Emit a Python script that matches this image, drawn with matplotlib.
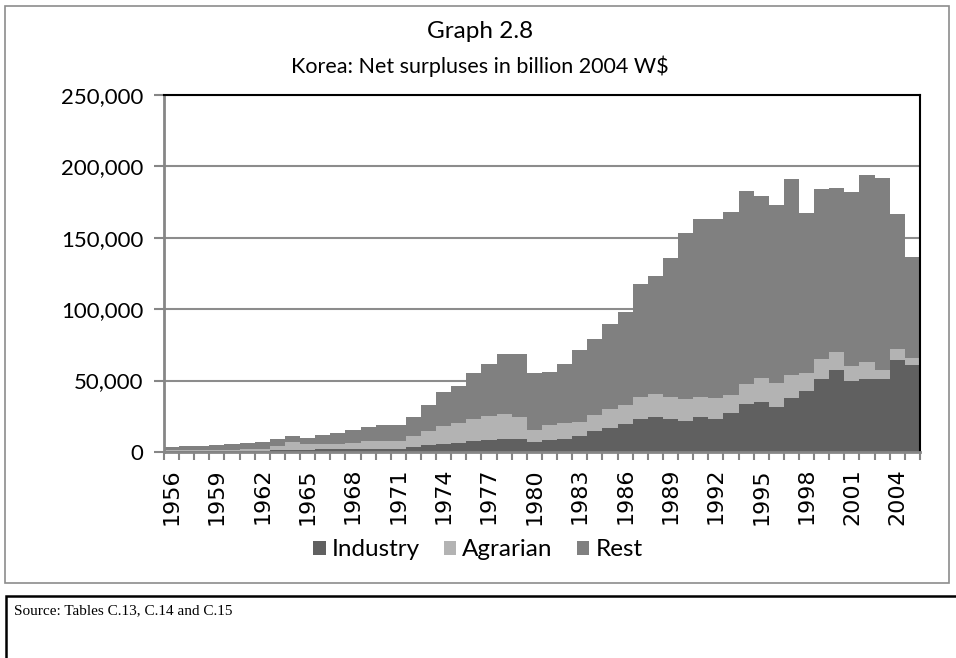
import matplotlib
matplotlib.use("Agg")
import matplotlib.pyplot as plt
from matplotlib.patches import Rectangle
from matplotlib.ticker import FuncFormatter, FixedLocator
import numpy as np

# Net surpluses by sector, billion 2004 W$
years = list(range(1956, 2006))
industry = [500, 500, 600, 600, 700, 800, 1000, 1200, 1500, 1600,
            1900, 1900, 2000, 2300, 2300, 1900, 3700, 5100, 5800, 6400,
            7500, 8200, 8900, 8900, 6800, 8200, 9100, 11200, 14500, 16700,
            19800, 23300, 24300, 23100, 21900, 24500, 23300, 27500, 33800, 35100,
            31500, 38100, 42900, 50900, 57400, 49700, 51400, 51400, 64400, 60900]
agrarian = [800, 900, 800, 900, 1000, 1000, 1100, 3200, 5700, 4000,
            3900, 3700, 4500, 5200, 5200, 6000, 7500, 9400, 12400, 13700,
            15700, 17000, 17500, 15400, 8600, 10700, 11200, 10000, 11400, 13300,
            13100, 15400, 16100, 15600, 15200, 14000, 14300, 12200, 14100, 16600,
            16600, 15600, 12400, 14200, 12600, 10800, 11600, 6300, 7800, 4700]
rest = [2400, 3000, 3100, 3600, 3900, 4700, 5100, 4500, 4000, 4200,
        6300, 7500, 8700, 9800, 11200, 10800, 13500, 18200, 23800, 26100,
        31800, 36700, 42500, 44200, 39900, 36900, 41600, 50000, 53300, 59400,
        65400, 78800, 82900, 97200, 116100, 124500, 125400, 128400, 134900, 127600,
        124700, 137100, 112100, 119300, 114900, 121800, 131000, 134000, 94500, 71200]

label_years = list(range(1956, 2006, 3))

plt.rcParams['font.family'] = ['Lato', 'DejaVu Sans']

fig = plt.figure(figsize=(9.56, 6.58), dpi=100)
ax = fig.add_axes([0.1715, 0.3131, 0.7908, 0.5426])

ind = np.array(industry)
agr = np.array(agrarian)
res = np.array(rest)

ax.bar(years, ind, width=1.0, color='#606060', linewidth=0, label='Industry', zorder=2)
ax.bar(years, agr, width=1.0, bottom=ind, color='#b3b3b3', linewidth=0, label='Agrarian', zorder=2)
ax.bar(years, res, width=1.0, bottom=ind + agr, color='#808080', linewidth=0, label='Rest', zorder=2)

ax.set_xlim(years[0] - 0.5, years[-1] + 0.5)
ax.set_ylim(0, 250000)
ax.set_yticks(range(0, 250001, 50000))
ax.yaxis.set_major_formatter(FuncFormatter(lambda v, p: f"{int(v):,}"))

# year labels every third year, tick marks between every bar
ax.xaxis.set_major_locator(FixedLocator(label_years))
ax.xaxis.set_minor_locator(FixedLocator(np.arange(years[0] - 0.5, years[-1] + 1.0, 1.0)))
ax.tick_params(axis='x', which='major', length=0, pad=11.5)
ax.tick_params(axis='x', which='minor', length=6, width=1.5, color='#868686')
ax.tick_params(axis='y', length=7, width=1.5, color='#868686', labelsize=16, pad=8)
ax.set_xticklabels([str(y) for y in label_years])
plt.setp(ax.get_xticklabels(), rotation=90, family='DejaVu Sans', fontsize=16)

ax.yaxis.grid(True, color='#8c8c8c', linewidth=1.5, zorder=1)
ax.set_axisbelow(True)

for side in ('left', 'bottom'):
    ax.spines[side].set_color('#868686')
    ax.spines[side].set_linewidth(2)
for side in ('top', 'right'):
    ax.spines[side].set_color('black')
    ax.spines[side].set_linewidth(1.5)

fig.text(0.502, 1 - 31 / 658, 'Graph 2.8', ha='center', va='center', fontsize=17.5)
fig.text(0.502, 1 - 66 / 658, 'Korea: Net surpluses in billion 2004 W$',
         ha='center', va='center', fontsize=15.5)

fig.legend(loc='center', bbox_to_anchor=(0.5, 1 - 550 / 658), ncol=3, frameon=False,
           fontsize=17.5, handlelength=0.5, handleheight=0.5, handletextpad=0.25,
           columnspacing=1.0)

# chart frame and source note box
fig.patches.append(Rectangle((5 / 956, 1 - 583 / 658), 944 / 956, 577 / 658,
                             transform=fig.transFigure, fill=False,
                             edgecolor='#8c8c8c', linewidth=1.2))
fig.patches.append(Rectangle((6 / 956, -0.05), 1.0, 1 - 596 / 658 + 0.05,
                             transform=fig.transFigure, fill=False,
                             edgecolor='black', linewidth=1.8))
fig.text(14 / 956, 1 - 611 / 658, 'Source: Tables C.13, C.14 and C.15',
         ha='left', va='center', fontsize=11, family='Liberation Serif')

fig.savefig('out.png', dpi=100)
